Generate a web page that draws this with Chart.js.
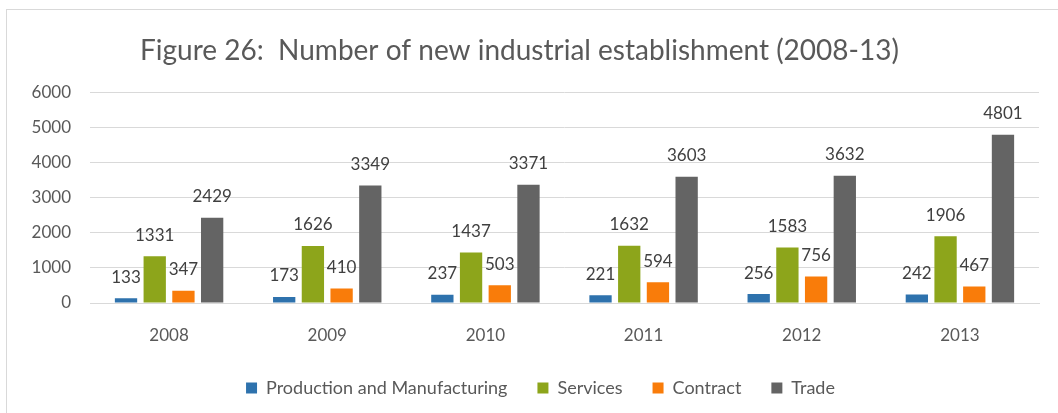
<!DOCTYPE html>
<html>
<head>
<meta charset="utf-8">
<script src="https://cdn.jsdelivr.net/npm/chart.js@4/dist/chart.umd.min.js"></script>
<style>
  html, body { margin: 0; padding: 0; background: #fff; overflow: hidden; }
  #wrap { position: relative; width: 1058px; height: 413px; }
  #frame { position: absolute; left: 6px; top: 9px; width: 1200px; height: 600px; border: 1px solid #d9d9d9; }
  #chart { position: absolute; left: 0; top: 0; }
</style>
</head>
<body>
<div id="wrap">
  <div id="frame"></div>
  <canvas id="chart" width="1058" height="413"></canvas>
</div>
<script>
const years = ['2008', '2009', '2010', '2011', '2012', '2013'];
const production = [133, 173, 237, 221, 256, 242];
const services = [1331, 1626, 1437, 1632, 1583, 1906];
const contract = [347, 410, 503, 594, 756, 467];
const trade = [2429, 3349, 3371, 3603, 3632, 4801];
const yTicks = [0, 1000, 2000, 3000, 4000, 5000, 6000];

const FONT = 'Lato';
const grey = '#595959';

// numbers above every bar, placed off the bar top
const valueLabels = {
    id: 'valueLabels',
    afterDatasetsDraw(chart) {
        const ctx = chart.ctx;
        ctx.save();
        ctx.font = '17px ' + FONT;
        ctx.fillStyle = '#404040';
        ctx.textAlign = 'center';
        ctx.textBaseline = 'middle';
        chart.data.datasets.forEach(function (ds, i) {
            chart.getDatasetMeta(i).data.forEach(function (bar, j) {
                ctx.fillText(String(ds.data[j]), bar.x, bar.y - 21);
            });
        });
        ctx.restore();
    }
};

// legend sits a bit right of the canvas centre
const legendShift = {
    id: 'legendShift',
    afterLayout(chart) {
        if (chart.legend) {
            chart.legend.left += 21;
            chart.legend.right += 21;
        }
    }
};

function series(label, data, color) {
    return {
        label: label,
        data: data,
        backgroundColor: color,
        borderWidth: 0,
        categoryPercentage: 0.726,
        barPercentage: 0.777
    };
}

new Chart(document.getElementById('chart'), {
    type: 'bar',
    data: {
        labels: years,
        datasets: [
            series('Production and Manufacturing', production, '#2e72ad'),
            series('Services', services, '#8da51b'),
            series('Contract', contract, '#f97c0a'),
            series('Trade', trade, '#646464')
        ]
    },
    options: {
        responsive: false,
        animation: false,
        layout: { padding: { left: 0, right: 19, top: 0, bottom: 6 } },
        plugins: {
            title: {
                display: true,
                text: 'Figure 26:  Number of new industrial establishment (2008-13)',
                color: grey,
                font: { family: FONT, size: 28, weight: 'normal' },
                padding: { top: 34, bottom: 25 }
            },
            legend: {
                position: 'bottom',
                labels: {
                    color: grey,
                    font: { family: FONT, size: 18 },
                    boxWidth: 11,
                    boxHeight: 11,
                    padding: 30
                }
            },
            tooltip: { enabled: false }
        },
        scales: {
            x: {
                grid: { display: false, drawTicks: false },
                border: { color: '#d9d9d9' },
                ticks: { color: grey, font: { family: FONT, size: 17 }, padding: 22 },
                afterFit: function (scale) { scale.height = 46; }
            },
            y: {
                min: yTicks[0],
                max: yTicks[yTicks.length - 1],
                afterBuildTicks: function (scale) {
                    scale.ticks = yTicks.map(function (v) { return { value: v }; });
                },
                grid: { color: '#d9d9d9', drawTicks: false },
                border: { display: false },
                ticks: {
                    color: grey,
                    font: { family: FONT, size: 17 },
                    padding: 19,
                    callback: function (v) { return String(v); }
                },
                afterFit: function (scale) { scale.width = 90; }
            }
        }
    },
    plugins: [valueLabels, legendShift]
});
</script>
</body>
</html>
